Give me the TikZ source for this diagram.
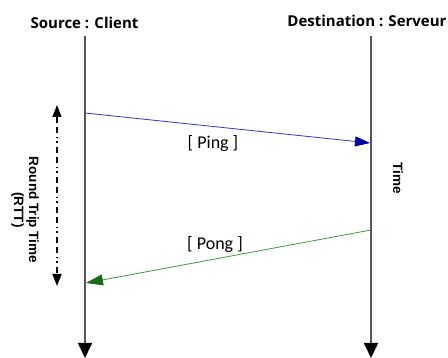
\documentclass[tikz,border=0pt]{standalone}
\usepackage{fontspec}
\setmainfont{Carlito}
\newfontfamily\hdrfont{Open Sans}
\newfontfamily\rttfont{Liberation Sans}
\usetikzlibrary{arrows.meta}
\definecolor{lifegray}{HTML}{555555}
\definecolor{pingblue}{HTML}{3333BB}
\definecolor{pinghead}{HTML}{00009A}
\definecolor{ponggreen}{HTML}{3A9A3A}
\definecolor{ponghead}{HTML}{1A6A1A}
\tikzset{
  hdr/.style={font=\hdrfont\bfseries\fontsize{15}{17}\selectfont, inner sep=0pt},
  lifeline/.style={draw=lifegray, line width=1.6pt, -{Triangle[width=14pt,length=15pt,color=black]}},
  msglabel/.style={font=\fontsize{18}{20}\selectfont, inner sep=0pt},
  vlabel/.style={font=\rttfont\bfseries\fontsize{13.5}{15}\selectfont, rotate=-90, align=center, inner sep=0pt},
}
\begin{document}
\begin{tikzpicture}[x=1pt,y=-1pt]
\useasboundingbox (0,0) rectangle (448,358);
\node[hdr] (src) at (84.5,23) {Source : Client};
\node[hdr] (dst) at (367,21) {Destination : Serveur};
\coordinate (s0) at (85,36);
\coordinate (s1) at (85,358);
\coordinate (d0) at (371,36);
\coordinate (d1) at (371,358);
\draw[lifeline] (s0) -- (s1);
\draw[lifeline] (d0) -- (d1);
\coordinate (pingA) at (85,113);
\coordinate (pingB) at (370,143);
\draw[pingblue, line width=0.8pt, -{Triangle[width=10pt,length=15pt,color=pinghead]}] (pingA) -- (pingB);
\node[msglabel] (ping) at (213,144) {[ Ping ]};
\coordinate (pongA) at (371,230);
\coordinate (pongB) at (86,283);
\draw[ponggreen, line width=0.8pt, -{Triangle[width=11pt,length=17pt,color=ponghead]}] (pongA) -- (pongB);
\node[msglabel] (pong) at (215,245) {[ Pong ]};
\coordinate (r0) at (57,105);
\coordinate (r1) at (57,286);
\draw[black, line width=1.6pt, dash pattern=on 6pt off 4pt on 6pt off 4pt on 1.5pt off 3pt on 1.5pt off 4pt,
  {Triangle[width=9pt,length=12pt]}-{Triangle[width=9pt,length=12pt]}] (r0) -- (r1);
\node[vlabel] (rtt) at (25,210) {Round Trip Time\\(RTT)};
\node[vlabel] (time) at (398,178) {Time};
\end{tikzpicture}
\end{document}
